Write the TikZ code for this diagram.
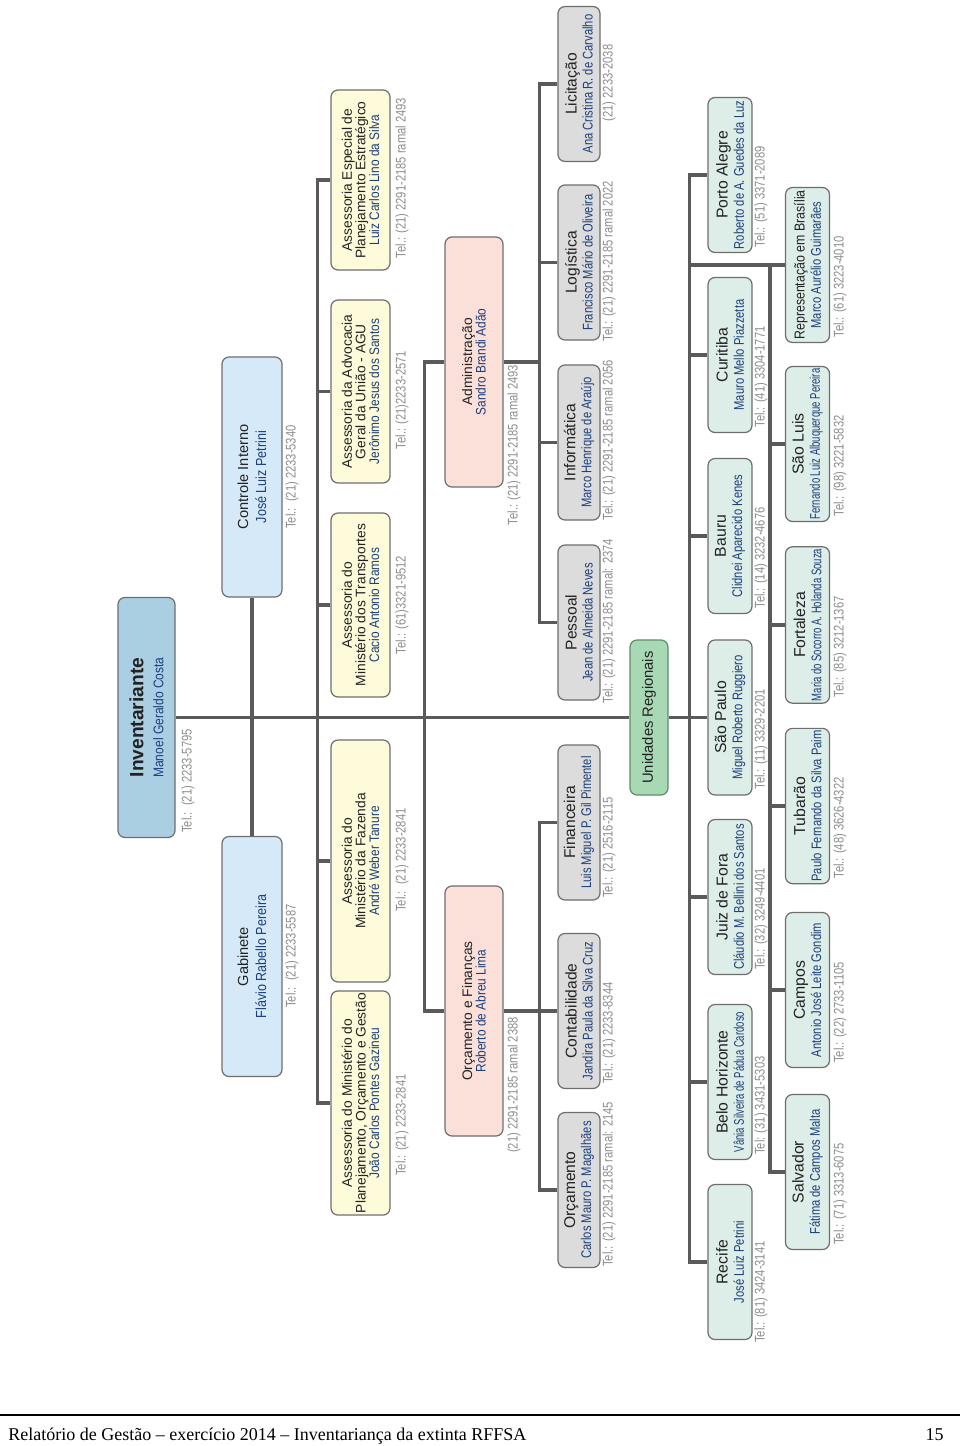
\documentclass[tikz,border=0pt]{standalone}
\usepackage{fontspec}
\setmainfont{Liberation Serif}
\newfontfamily\lsans{Liberation Sans}
\newfontfamily\lsansn{Liberation Sans}[FakeStretch=0.86]
\newfontfamily\lsansc{Liberation Sans}[FakeStretch=0.8]
\newfontfamily\lsansx{Liberation Sans}[FakeStretch=0.68]
\newfontfamily\lsanst{Liberation Sans}[FakeStretch=0.8]
\setlength{\lineskiplimit}{-10pt}
\definecolor{invfill}{HTML}{ABCFE2}
\definecolor{bluefill}{HTML}{D6E9F8}
\definecolor{yelfill}{HTML}{FDFBD9}
\definecolor{pinkfill}{HTML}{FBE0DA}
\definecolor{grayfill}{HTML}{DCDCDC}
\definecolor{greenfill}{HTML}{A8D8B4}
\definecolor{greenline}{HTML}{5E8F6B}
\definecolor{regfill}{HTML}{DDEDE8}
\definecolor{boxline}{HTML}{6E6E6E}
\definecolor{connline}{HTML}{5A5A5A}
\definecolor{navy}{HTML}{1B3F7A}
\definecolor{telgray}{HTML}{8E8E8E}
\definecolor{titlecol}{HTML}{222222}
\newcommand{\nmA}[1]{{\lsansn\color{navy}#1}}
\newcommand{\nmB}[1]{{\lsansc\fontsize{7}{8}\selectfont\color{navy}#1}}
\newcommand{\nmC}[1]{{\lsansx\fontsize{7}{8}\selectfont\color{navy}#1}}
\begin{document}
\begin{tikzpicture}[x=0.5pt,y=-0.5pt,
  orgbox/.style={draw=boxline, line width=0.6pt, rounded corners=3.5pt, rotate=90, align=center, inner sep=1pt, text=titlecol},
  conn/.style={draw=connline, line width=1.7pt},
  tel/.style={rotate=90, text=telgray, font=\lsanst\fontsize{7}{8}\selectfont, inner sep=0pt},
  lvlbox/.style={orgbox, fill=bluefill, minimum width=120pt, minimum height=30pt, font=\lsans\fontsize{7.3}{9}\selectfont},
  assbox/.style={orgbox, fill=yelfill, minimum height=29.5pt, font=\lsans\fontsize{6.9}{6.8}\selectfont},
  depbox/.style={orgbox, fill=pinkfill, minimum height=29pt, minimum width=125pt, font=\lsans\fontsize{6.9}{6.8}\selectfont},
  subbox/.style={orgbox, fill=grayfill, minimum height=21pt, minimum width=77.5pt, font=\lsans\fontsize{7.8}{8}\selectfont},
  regbox/.style={orgbox, fill=regfill, minimum height=22pt, minimum width=77.5pt, font=\lsans\fontsize{7.9}{8.1}\selectfont}
]
\fill[white] (0,0) rectangle (960,1446);
\useasboundingbox (0,0) rectangle (960,1446);

% ---------- top level ----------
\node[lvlbox, fill=invfill, minimum width=120pt, minimum height=28.5pt,
      font=\lsans\fontsize{7}{10}\selectfont] (inv) at (146.5,717.5)
  {{\bfseries\fontsize{9.6}{10}\selectfont Inventariante}\\ \nmA{Manoel Geraldo Costa}};
\node[tel, anchor=west] (invtel) at (188,833) {Tel.:\ \ (21) 2233-5795};

\node[lvlbox] (ci) at (252,477) {Controle Interno\\ \nmA{José Luiz Petrini}};
\node[tel] (citel) at (292,477) {Tel.:\ \ (21) 2233-5340};
\node[lvlbox] (gab) at (252,956.5) {Gabinete\\ \nmA{Flávio Rabello Pereira}};
\node[tel] (gabtel) at (292,956) {Tel.:\ \ (21) 2233-5587};

% ---------- assessorias ----------
\node[assbox, minimum width=90pt] (esp) at (360.5,180)
  {Assessoria Especial de\\Planejamento Estratégico\\ \nmA{Luiz Carlos Lino da Silva}};
\node[tel] (esptel) at (402,178) {Tel.: (21) 2291-2185 ramal 2493};
\node[assbox, minimum width=91.5pt] (agu) at (360.5,391.5)
  {Assessoria da Advocacia\\Geral da União - AGU\\ \nmA{Jerônimo Jesus dos Santos}};
\node[tel] (agutel) at (402,400) {Tel.: (21)2233-2571};
\node[assbox, minimum width=92pt] (tra) at (360.5,605)
  {Assessoria do\\Ministério dos Transportes\\ \nmA{Cacio Antonio Ramos}};
\node[tel] (tratel) at (402,605) {Tel.: (61)3321-9512};
\node[assbox, minimum width=121pt] (faz) at (360.5,861)
  {Assessoria do\\Ministério da Fazenda\\ \nmA{André Weber Tanure}};
\node[tel] (faztel) at (402,860) {Tel.:\ \ (21) 2233-2841};
\node[assbox, minimum width=110pt] (pla) at (360.5,1103)
  {Assessoria do Ministério do\\Planejamento, Orçamento e Gestão\\ \nmA{João Carlos Pontes Gazineu}};
\node[tel] (platel) at (402,1125) {Tel.: (21) 2233-2841};

% ---------- departments ----------
\node[depbox] (adm) at (474,362) {Administração\\ \nmA{Sandro Brandi Adão}};
\node[tel] (admtel) at (514,445) {Tel.: (21) 2291-2185 ramal 2493};
\node[depbox] (of) at (474,1011) {Orçamento e Finanças\\ \nmA{Roberto de Abreu Lima}};
\node[tel] (oftel) at (514,1085) {(21) 2291-2185 ramal 2388};

% ---------- sub-departments ----------
\node[subbox] (lic) at (579,84) {Licitação\\ \nmB{Ana Cristina R. de Carvalho}};
\node[tel] (lictel) at (609,83) {(21) 2233-2038};
\node[subbox] (log) at (579,262.5) {Logística\\ \nmB{Francisco Mário de Oliveira}};
\node[tel, anchor=west] (logtel) at (609,342) {Tel.: (21) 2291-2185 ramal 2022};
\node[subbox] (inf) at (579,442.5) {Informática\\ \nmB{Marco Henrique de Araújo}};
\node[tel, anchor=west] (inftel) at (609,521) {Tel.: (21) 2291-2185 ramal 2056};
\node[subbox] (pes) at (579,622.5) {Pessoal\\ \nmB{Jean de Almeida Neves}};
\node[tel, anchor=west] (pestel) at (609,704) {Tel.: (21) 2291-2185 ramal: 2374};
\node[subbox] (fin) at (579,822.5) {Financeira\\ \nmB{Luis Miguel P. Gil Pimentel}};
\node[tel, anchor=west] (fintel) at (609,898) {Tel.: (21) 2516-2115};
\node[subbox] (cont) at (579,1011) {Contabilidade\\ \nmB{Jandira Paula da Silva Cruz}};
\node[tel, anchor=west] (conttel) at (609,1084) {Tel.: (21) 2233-8344};
\node[subbox] (orc) at (579,1190) {Orçamento\\ \nmB{Carlos Mauro P. Magalhães}};
\node[tel, anchor=west] (orctel) at (609,1267) {Tel.: (21) 2291-2185 ramal: 2145};

% ---------- regional units ----------
\node[orgbox, fill=greenfill, draw=greenline, minimum width=77.5pt, minimum height=19pt,
      font=\lsans\fontsize{7.4}{8}\selectfont] (ur) at (649,717.5) {Unidades Regionais};

\node[regbox] (poa) at (730,175) {Porto Alegre\\ \nmB{Roberto de A. Guedes da Luz}};
\node[tel, anchor=west] (poatel) at (761,248) {Tel.: (51) 3371-2089};
\node[regbox] (cur) at (730,355) {Curitiba\\ \nmB{Mauro Mello Piazzetta}};
\node[tel, anchor=west] (curtel) at (761,428) {Tel.: (41) 3304-1771};
\node[regbox] (bau) at (730,536) {Bauru\\ \nmB{Clidnei Aparecido Kenes}};
\node[tel, anchor=west] (bautel) at (761,609) {Tel.: (14) 3232-4676};
\node[regbox] (sp) at (730,717.5) {São Paulo\\ \nmB{Miguel Roberto Ruggiero}};
\node[tel, anchor=west] (sptel) at (761,790) {Tel.: (11) 3329-2201};
\node[regbox] (jf) at (730,897) {Juiz de Fora\\ \nmB{Cláudio M. Bellini dos Santos}};
\node[tel, anchor=west] (jftel) at (761,970) {Tel.: (32) 3249-4401};
\node[regbox] (bh) at (730,1082) {Belo Horizonte\\ \nmC{Vânia Silveira de Pádua Cardoso}};
\node[tel, anchor=west] (bhtel) at (761,1155) {Tel: (31) 3431-5303};
\node[regbox] (rec) at (730,1262) {Recife\\ \nmB{José Luiz Petrini}};
\node[tel, anchor=west] (rectel) at (761,1343) {Tel.: (81) 3424-3141};

\node[regbox] (rep) at (807.5,265) {{\lsansn\fontsize{7.2}{8}\selectfont Representação em Brasília}\\ \nmB{Marco Aurélio Guimarães}};
\node[tel, anchor=west] (reptel) at (840,338) {Tel.: (61) 3223-4010};
\node[regbox] (slu) at (807.5,444) {São Luis\\ \nmC{Fernando Luiz Albuquerque Pereira}};
\node[tel, anchor=west] (slutel) at (840,517) {Tel.: (98) 3221-5832};
\node[regbox] (fort) at (807.5,625) {Fortaleza\\ \nmC{Maria do Socorro A. Holanda Souza}};
\node[tel, anchor=west] (forttel) at (840,698) {Tel.: (85) 3212-1367};
\node[regbox] (tub) at (807.5,806) {Tubarão\\ \nmB{Paulo Fernando da Silva Paim}};
\node[tel, anchor=west] (tubtel) at (840,879) {Tel.: (48) 3626-4322};
\node[regbox] (cam) at (807.5,990) {Campos\\ \nmB{Antonio José Leite Gondim}};
\node[tel, anchor=west] (camtel) at (840,1063) {Tel.: (22) 2733-1105};
\node[regbox] (sal) at (807.5,1172) {Salvador\\ \nmB{Fátima de Campos Malta}};
\node[tel, anchor=west] (saltel) at (840,1245) {Tel.: (71) 3313-6075};

% ---------- connectors ----------
\draw[conn] (inv.south) -- (ur.north);
\draw[conn] (ci.west) -- (gab.east);
\draw[conn] (esp.north) -- ++(-13,0) |- (pla.north);
\foreach \n in {agu,tra,faz} \draw[conn] (\n.north) -- ++(-13,0);
\draw[conn] (adm.north) -- ++(-20,0) |- (of.north);
\draw[conn] (of.south) -- (cont.north);
\draw[conn] (fin.north) -- ++(-18,0) |- (orc.north);
\draw[conn] (adm.south) -- ++(37,0);
\draw[conn] (lic.north) -- ++(-18,0) |- (pes.north);
\foreach \n in {log,inf} \draw[conn] (\n.north) -- ++(-18,0);
\draw[conn] (ur.south) -- (sp.north);
\draw[conn] (poa.north) -- ++(-18,0) |- (rec.north);
\foreach \n in {cur,bau,jf,bh} \draw[conn] (\n.north) -- ++(-18,0);
\draw[conn] (rep.north) -- ++(-15,0) |- (sal.north);
\foreach \n in {slu,fort,tub,cam} \draw[conn] (\n.north) -- ++(-15,0);
\draw[conn] (rep.north) -- ([xshift=-9pt]rep.north -| cur.north);

% ---------- footer ----------
\draw[line width=1.1pt] (0,1415) -- (960,1415);
\node[anchor=base west, inner sep=0pt, font=\fontsize{9}{11}\selectfont] (foot) at (8,1440)
  {Relatório de Gestão -- exercício 2014 -- Inventariança da extinta RFFSA};
\node[anchor=base east, inner sep=0pt, font=\fontsize{9}{11}\selectfont] (page) at (944,1440) {15};
\end{tikzpicture}
\end{document}
